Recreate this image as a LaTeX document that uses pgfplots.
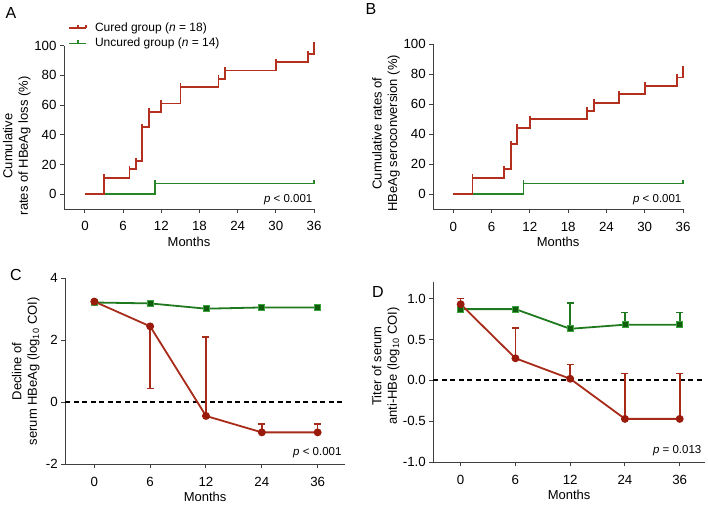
\documentclass[border=0pt]{standalone}
\usepackage{fontspec}
\setmainfont{Liberation Sans}
\usepackage{pgfplots}
\pgfplotsset{compat=1.18}

\definecolor{kmred}{HTML}{B3301E}
\definecolor{kmgreen}{HTML}{268526}
\definecolor{lnred}{HTML}{A82A18}
\definecolor{mkred}{HTML}{9A1A0C}
\definecolor{lngreen}{HTML}{1F7A1F}
\definecolor{mkgreen}{HTML}{0E5E0E}
\definecolor{bdgreen}{HTML}{3DA33D}
\definecolor{axgray}{HTML}{404040}

% small upward tick used as censor mark
\pgfdeclareplotmark{utick}{%
  \pgfpathmoveto{\pgfpointorigin}%
  \pgfpathlineto{\pgfqpoint{0pt}{\pgfplotmarksize}}%
  \pgfusepathqstroke}

\tikzset{pval/.style={anchor=east, font=\fontsize{11.5}{13}\selectfont}}

\pgfplotsset{
  panel/.style={
    scale only axis, clip=false,
    axis x line*=bottom, axis y line*=left,
    axis line style={axgray, line width=1pt},
    tick style={axgray, line width=1pt},
    tick align=outside, major tick length=4pt,
    /pgf/number format/assume math mode=true,
    tick label style={font=\fontsize{13.3}{15}\selectfont},
    xticklabel style={yshift=-5pt},
    label style={font=\fontsize{13}{15.5}\selectfont},
    ylabel style={align=center},
    xlabel=Months,
    xlabel style={yshift=1pt},
  },
  km/.style={const plot, line width=1.8pt, mark=utick, mark size=3.5pt},
}

\begin{document}
\begin{tikzpicture}
\useasboundingbox (0,0) rectangle (708pt,-505pt);

% ---------------- A
\begin{axis}[panel, at={(64pt,-209pt)}, anchor=south west,
  width=250pt, height=163.3pt,
  xmin=-3.3, xmax=36, ymin=-10, ymax=100,
  xtick={0,6,...,36}, ytick={0,20,...,100},
  ylabel={Cumulative\\rates of HBeAg loss (\%)},
  ylabel style={at={(axis description cs:-0.12,0.386)}, anchor=south},
  legend style={at={(axis description cs:0,1)}, anchor=south west,
    xshift=4pt, yshift=-5pt, draw=none, fill=none, inner sep=0pt,
    font=\fontsize{12}{14}\selectfont, row sep=1pt,
    /tikz/every odd column/.append style={column sep=6pt}},
  legend cell align=left]
\addplot[km, kmgreen, mark indices={2,3}, forget plot]
  coordinates {(0,0) (11,7.14) (36,7.14)};
\addplot[km, kmred, mark indices={2,3,4,5,6,7,8,9,10,11,12,13}]
  coordinates {(0,0) (3,11.1) (7,16.7) (8,22.2) (9,45) (10,55.6) (12,61.1)
               (15,72.2) (21,77.8) (22,83.3) (30,88.9) (35,94.4) (36,100)};
\addlegendentry{Cured group (\textit{n} = 18)}
\addlegendimage{km, kmgreen}
\addlegendentry{Uncured group (\textit{n} = 14)}
\node[pval] at (axis cs:36.3,-3.4) {\textit{p} < 0.001};
\end{axis}

% ---------------- B
\begin{axis}[panel, at={(433.3pt,-209.3pt)}, anchor=south west,
  width=249.7pt, height=165pt,
  xmin=-3.13, xmax=36, ymin=-10, ymax=100,
  xtick={0,6,...,36}, ytick={0,20,...,100},
  ylabel={Cumulative rates of\\HBeAg seroconversion (\%)},
  ylabel style={at={(axis description cs:-0.12,0.46)}, anchor=south}]
\addplot[km, kmgreen, mark indices={2,3}]
  coordinates {(0,0) (11,7.14) (36,7.14)};
\addplot[km, kmred, mark indices={2,3,4,5,6,7,8,9,10,11,12}]
  coordinates {(0,0) (3,11.1) (8,16.7) (9,33.3) (10,44.4) (12,50)
               (21,55.6) (22,61.1) (26,66.7) (30,72.2) (35,77.8) (36,83.3)};
\node[pval] at (axis cs:36.3,-3.8) {\textit{p} < 0.001};
\end{axis}

% ---------------- C
\begin{axis}[panel, at={(65.3pt,-464.3pt)}, anchor=south west,
  width=279.7pt, height=186pt,
  xmin=-0.52, xmax=4.49, ymin=-2, ymax=4,
  xtick={0,1,2,3,4}, xticklabels={0,6,12,24,36}, ytick={-2,0,2,4},
  ylabel={Decline of\\serum HBeAg (log\textsubscript{10} COI)},
  ylabel style={at={(axis description cs:-0.079,0.5)}, anchor=south}]
\draw[black, line width=1.8pt, dash pattern=on 5pt off 3.5pt]
  (axis cs:-0.52,0) -- (axis cs:4.49,0);
\addplot[lngreen, line width=1.8pt, mark=square*,
  mark options={fill=mkgreen, draw=bdgreen, line width=0.8pt}, mark size=3pt]
  coordinates {(0,3.22) (1,3.19) (2,3.02) (3,3.06) (4,3.06)};
\addplot[lnred, line width=1.8pt, mark=*,
  mark options={fill=mkred, draw=mkred}, mark size=3pt,
  error bars/.cd, y dir=both, y explicit,
  error bar style={lnred, line width=1.6pt},
  error mark options={rotate=90, mark size=3.5pt, lnred, line width=1.6pt}]
  coordinates {(0,3.25) +- (0,0)
               (1,2.45) += (0,0) -= (0,2.0)
               (2,-0.44) += (0,2.54) -= (0,0)
               (3,-0.97) += (0,0.27) -= (0,0)
               (4,-0.97) += (0,0.27) -= (0,0)};
\node[pval] at (axis cs:4.49,-1.61) {\textit{p} < 0.001};
\end{axis}

% ---------------- D
\begin{axis}[panel, at={(433.3pt,-462.3pt)}, anchor=south west,
  width=271.6pt, height=180.2pt,
  xmin=-0.5, xmax=4.46, ymin=-1, ymax=1.2,
  xtick={0,1,2,3,4}, xticklabels={0,6,12,24,36},
  ytick={-1,-0.5,0,0.5,1},
  yticklabel style={/pgf/number format/.cd, fixed, fixed zerofill, precision=1},
  ylabel={Titer of serum\\anti-HBe (log\textsubscript{10} COI)},
  ylabel style={at={(axis description cs:-0.111,0.534)}, anchor=south}]
\draw[black, line width=1.8pt, dash pattern=on 5pt off 3.5pt]
  (axis cs:-0.5,0) -- (axis cs:4.46,0);
\addplot[lngreen, line width=1.8pt, mark=square*,
  mark options={fill=mkgreen, draw=bdgreen, line width=0.8pt}, mark size=3pt,
  error bars/.cd, y dir=both, y explicit,
  error bar style={lngreen, line width=1.6pt},
  error mark options={rotate=90, mark size=3.5pt, lngreen, line width=1.6pt}]
  coordinates {(0,0.87) +- (0,0)
               (1,0.87) +- (0,0)
               (2,0.63) += (0,0.315) -= (0,0)
               (3,0.68) += (0,0.147) -= (0,0)
               (4,0.68) += (0,0.147) -= (0,0)};
\addplot[lnred, line width=1.8pt, mark=*,
  mark options={fill=mkred, draw=mkred}, mark size=3pt,
  error bars/.cd, y dir=both, y explicit,
  error bar style={lnred, line width=1.6pt},
  error mark options={rotate=90, mark size=3.5pt, lnred, line width=1.6pt}]
  coordinates {(0,0.93) += (0,0.07) -= (0,0)
               (1,0.27) += (0,0.37) -= (0,0)
               (2,0.02) += (0,0.175) -= (0,0)
               (3,-0.47) += (0,0.555) -= (0,0)
               (4,-0.47) += (0,0.555) -= (0,0)};
\node[pval] at (axis cs:4.46,-0.86) {\textit{p} = 0.013};
\end{axis}

% panel letters
\node[font=\fontsize{16}{18}\selectfont] at (11pt,-13pt) {A};
\node[font=\fontsize{16}{18}\selectfont] at (371pt,-9pt) {B};
\node[font=\fontsize{16}{18}\selectfont] at (16pt,-275pt) {C};
\node[font=\fontsize{16}{18}\selectfont] at (378pt,-292pt) {D};
\end{tikzpicture}
\end{document}
